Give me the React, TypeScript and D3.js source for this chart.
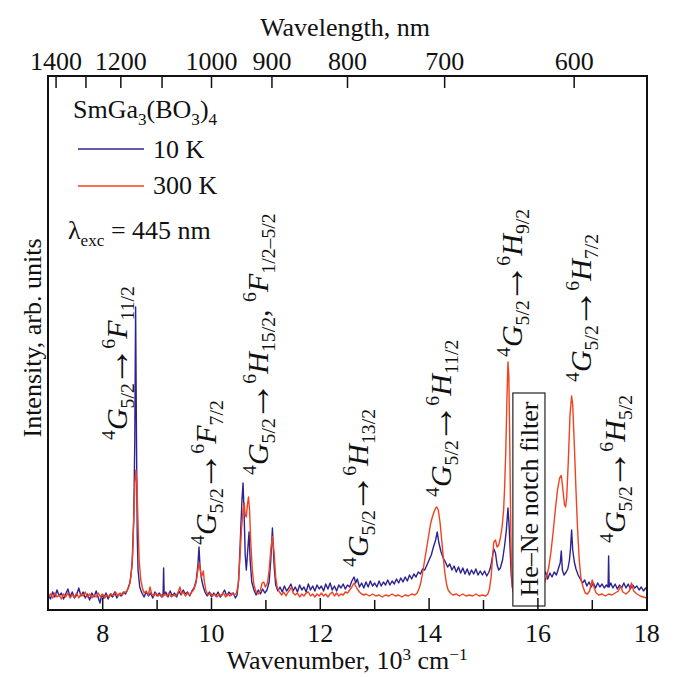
import React from "react";
import * as d3 from "d3";

// Luminescence spectra of SmGa3(BO3)4, intensity in arb. units vs wavenumber (10^3 cm^-1)
const spectrum10K: [number, number][] = [
  [7.0, 3.0], [7.04, 2.2], [7.08, 3.6], [7.12, 2.6], [7.16, 4.0], [7.2, 2.8], [7.24, 3.4], [7.28, 2.2],
  [7.32, 3.2], [7.36, 4.2], [7.4, 2.6], [7.44, 3.6], [7.48, 2.4], [7.52, 3.0], [7.56, 4.4], [7.6, 2.8],
  [7.64, 3.6], [7.68, 2.4], [7.72, 3.2], [7.76, 2.0], [7.8, 3.4], [7.84, 2.6], [7.88, 3.8], [7.92, 2.4],
  [7.95, 1.4], [7.98, 3.0], [8.02, 2.4], [8.06, 3.4], [8.1, 2.2], [8.14, 3.2], [8.18, 2.6], [8.22, 3.6],
  [8.26, 2.4], [8.3, 3.2], [8.34, 2.8], [8.38, 3.6], [8.42, 3.2], [8.46, 4.2], [8.5, 5.4], [8.54, 9],
  [8.57, 18], [8.59, 34], [8.605, 60.6], [8.62, 36], [8.635, 15], [8.65, 8], [8.68, 4.6], [8.72, 3.4],
  [8.76, 2.6], [8.8, 3.6], [8.84, 2.8], [8.88, 3.4], [8.92, 2.4], [8.96, 3.6], [9.0, 2.8], [9.04, 3.4],
  [9.08, 2.6], [9.11, 3.2], [9.12, 8.4], [9.13, 3.0], [9.16, 3.6], [9.2, 2.6], [9.24, 3.8], [9.28, 2.8],
  [9.32, 3.4], [9.36, 2.6], [9.4, 3.8], [9.44, 3.0], [9.48, 4.0], [9.52, 3.2], [9.56, 3.6], [9.6, 2.8],
  [9.64, 3.8], [9.68, 4.4], [9.72, 6.0], [9.75, 9.0], [9.77, 12.6], [9.79, 8.6], [9.82, 6.0], [9.85, 4.6],
  [9.88, 3.6], [9.92, 2.8], [9.96, 3.6], [10.0, 2.6], [10.04, 3.4], [10.08, 2.8], [10.12, 3.6], [10.16, 2.6],
  [10.2, 3.2], [10.24, 4.0], [10.28, 2.8], [10.32, 3.6], [10.36, 3.0], [10.4, 3.4], [10.44, 2.4], [10.47, 3.0],
  [10.5, 6], [10.53, 14], [10.56, 22], [10.58, 25.4], [10.6, 19], [10.62, 11], [10.64, 8], [10.66, 11],
  [10.69, 15.6], [10.71, 10], [10.74, 5.6], [10.78, 4.0], [10.82, 3.0], [10.86, 4.0], [10.9, 3.2], [10.94, 4.2],
  [10.98, 3.4], [11.02, 4.0], [11.06, 5.6], [11.09, 10], [11.12, 16.4], [11.15, 9], [11.18, 5], [11.22, 3.8],
  [11.26, 4.6], [11.3, 3.6], [11.34, 4.8], [11.38, 3.8], [11.42, 4.4], [11.46, 5.2], [11.5, 3.8], [11.54, 4.6],
  [11.58, 3.6], [11.62, 5.0], [11.66, 4.0], [11.7, 4.6], [11.74, 3.6], [11.78, 5.2], [11.82, 4.0], [11.86, 4.8],
  [11.9, 3.8], [11.94, 5.0], [11.98, 4.2], [12.02, 4.8], [12.06, 3.8], [12.1, 5.2], [12.14, 4.2], [12.18, 5.4],
  [12.22, 4.0], [12.26, 4.8], [12.3, 3.8], [12.34, 5.0], [12.38, 4.4], [12.42, 5.2], [12.46, 4.2], [12.5, 5.0],
  [12.54, 4.6], [12.58, 5.8], [12.62, 6.6], [12.65, 5.4], [12.68, 6.2], [12.72, 4.6], [12.76, 5.4], [12.8, 4.4],
  [12.84, 5.6], [12.88, 4.6], [12.92, 5.8], [12.96, 4.8], [13.0, 5.4], [13.04, 4.6], [13.08, 5.8], [13.12, 4.8],
  [13.16, 5.6], [13.2, 5.0], [13.24, 6.0], [13.28, 5.0], [13.32, 5.8], [13.36, 5.2], [13.4, 6.2], [13.44, 5.4],
  [13.48, 6.4], [13.52, 5.6], [13.56, 6.6], [13.6, 5.8], [13.64, 7.0], [13.68, 6.2], [13.72, 7.2], [13.76, 6.6],
  [13.8, 7.6], [13.84, 7.2], [13.88, 8.2], [13.92, 8.0], [13.96, 9.0], [14.0, 10], [14.04, 11], [14.08, 12.6],
  [14.12, 14], [14.15, 15.6], [14.18, 13.4], [14.22, 11.6], [14.26, 10.4], [14.3, 9.6], [14.34, 8.6], [14.38, 9.2],
  [14.42, 8.0], [14.46, 8.8], [14.5, 7.6], [14.54, 8.6], [14.58, 7.4], [14.62, 8.4], [14.66, 7.2], [14.7, 8.2],
  [14.74, 7.0], [14.78, 8.0], [14.82, 7.2], [14.86, 8.2], [14.9, 7.0], [14.94, 7.8], [14.98, 7.0], [15.02, 7.8],
  [15.06, 6.8], [15.1, 7.6], [15.13, 8.6], [15.16, 10.4], [15.19, 12.2], [15.22, 11.4], [15.25, 9.0], [15.28, 8.0],
  [15.31, 8.4], [15.35, 10], [15.39, 13], [15.42, 16], [15.45, 20.4], [15.47, 17], [15.49, 12], [15.51, 7],
  [15.53, 4.6], [15.56, 3.2], [15.7, 3.0], [15.9, 3.4], [16.06, 6.2], [16.1, 6.6], [16.14, 7.6], [16.18, 6.2],
  [16.22, 7.4], [16.26, 6.6], [16.3, 7.6], [16.34, 7.0], [16.38, 8.4], [16.41, 9.4], [16.43, 11.8], [16.45, 8.0],
  [16.48, 7.0], [16.52, 7.6], [16.55, 8.2], [16.58, 10], [16.6, 12.4], [16.62, 16], [16.64, 12], [16.67, 9.6],
  [16.7, 8.2], [16.74, 7.0], [16.78, 6.2], [16.82, 5.4], [16.86, 6.0], [16.9, 4.8], [16.94, 5.6], [16.98, 4.6],
  [17.02, 5.4], [17.06, 4.4], [17.1, 5.4], [17.14, 4.6], [17.18, 5.2], [17.22, 4.4], [17.26, 5.0], [17.29, 4.6],
  [17.3, 10.8], [17.31, 4.6], [17.34, 5.4], [17.38, 4.4], [17.42, 5.2], [17.46, 4.2], [17.5, 5.0], [17.54, 4.4],
  [17.58, 5.4], [17.62, 4.4], [17.66, 5.2], [17.7, 4.2], [17.74, 5.0], [17.78, 4.4], [17.82, 4.8], [17.86, 4.0],
  [17.9, 4.6], [17.94, 3.8], [17.98, 4.4], [18.0, 4.2],
];

const spectrum300K: [number, number][] = [
  [7.0, 2.6], [7.04, 3.2], [7.08, 2.4], [7.12, 3.4], [7.16, 2.6], [7.2, 3.0], [7.24, 2.2], [7.28, 3.2],
  [7.32, 2.6], [7.36, 3.4], [7.4, 2.4], [7.44, 3.0], [7.48, 2.6], [7.52, 3.4], [7.56, 2.4], [7.6, 3.2],
  [7.64, 2.8], [7.68, 3.6], [7.72, 2.6], [7.76, 3.2], [7.8, 2.4], [7.84, 3.0], [7.88, 2.6], [7.92, 3.4],
  [7.96, 2.6], [8.0, 3.2], [8.04, 2.4], [8.08, 3.0], [8.12, 2.6], [8.16, 3.2], [8.2, 2.8], [8.24, 3.6],
  [8.28, 2.8], [8.32, 3.4], [8.36, 3.0], [8.4, 3.6], [8.44, 3.6], [8.48, 4.6], [8.52, 6.6], [8.55, 11],
  [8.57, 18], [8.59, 25], [8.61, 28], [8.63, 25], [8.65, 17], [8.67, 10], [8.7, 6], [8.73, 4.4],
  [8.76, 3.4], [8.8, 3.8], [8.84, 3.0], [8.87, 4.6], [8.9, 3.2], [8.94, 2.8], [8.98, 3.4], [9.02, 2.8],
  [9.06, 3.2], [9.1, 2.6], [9.14, 3.2], [9.18, 2.8], [9.22, 3.4], [9.26, 2.6], [9.3, 3.0], [9.34, 2.8],
  [9.38, 3.4], [9.42, 4.6], [9.45, 3.2], [9.48, 3.6], [9.52, 2.8], [9.56, 3.4], [9.6, 3.0], [9.64, 3.6],
  [9.68, 4.2], [9.72, 5.6], [9.75, 8.0], [9.77, 9.4], [9.79, 8.2], [9.81, 6.6], [9.83, 7.0], [9.85, 7.8],
  [9.87, 5.6], [9.9, 3.8], [9.94, 3.0], [9.98, 3.4], [10.02, 2.8], [10.06, 3.2], [10.1, 2.6], [10.14, 3.2],
  [10.18, 2.8], [10.22, 3.4], [10.26, 2.6], [10.3, 3.2], [10.34, 2.8], [10.38, 3.4], [10.42, 3.0], [10.46, 3.4],
  [10.49, 5], [10.52, 10], [10.55, 16], [10.58, 20], [10.6, 21.4], [10.62, 19], [10.64, 18.6], [10.66, 21],
  [10.68, 22.6], [10.7, 20], [10.72, 14], [10.75, 8], [10.78, 5], [10.82, 3.6], [10.86, 3.2], [10.9, 4.0],
  [10.93, 5.4], [10.96, 5.6], [10.99, 4.6], [11.03, 5.4], [11.06, 8], [11.09, 12], [11.12, 14.7], [11.15, 11.6],
  [11.18, 6.6], [11.21, 4.4], [11.25, 3.6], [11.29, 3.0], [11.33, 3.6], [11.37, 2.8], [11.41, 3.6], [11.44, 4.0],
  [11.47, 4.6], [11.5, 3.4], [11.54, 3.0], [11.58, 3.4], [11.62, 2.6], [11.66, 3.2], [11.7, 2.8], [11.74, 3.4],
  [11.78, 3.6], [11.82, 2.8], [11.86, 3.2], [11.9, 2.6], [11.94, 3.2], [11.98, 2.8], [12.02, 3.4], [12.06, 2.8],
  [12.1, 3.2], [12.14, 2.6], [12.18, 3.2], [12.22, 3.6], [12.26, 2.8], [12.3, 3.4], [12.34, 2.8], [12.38, 3.2],
  [12.42, 3.0], [12.46, 3.6], [12.5, 3.4], [12.54, 4.0], [12.58, 4.6], [12.62, 5.4], [12.65, 4.8], [12.68, 4.2],
  [12.72, 3.6], [12.76, 3.2], [12.8, 3.0], [12.84, 3.2], [12.9, 2.8], [12.96, 3.2], [13.02, 2.8], [13.08, 3.0],
  [13.14, 2.6], [13.2, 3.0], [13.26, 2.8], [13.32, 3.2], [13.38, 2.8], [13.44, 3.0], [13.5, 2.6], [13.56, 3.0],
  [13.62, 2.8], [13.68, 3.2], [13.74, 3.0], [13.78, 3.4], [13.82, 4.4], [13.85, 5.6], [13.88, 7.4], [13.91, 9.4],
  [13.94, 11.4], [13.97, 13.4], [14.0, 15.4], [14.03, 17.4], [14.06, 18.6], [14.09, 19.6], [14.12, 20.4], [14.14, 20.6],
  [14.17, 20.0], [14.2, 17.6], [14.23, 14.2], [14.26, 10.6], [14.29, 7.4], [14.32, 5.2], [14.35, 4.0], [14.39, 3.4],
  [14.44, 3.0], [14.5, 3.2], [14.56, 2.8], [14.62, 3.2], [14.68, 2.8], [14.74, 3.0], [14.8, 2.8], [14.86, 3.2],
  [14.92, 2.8], [14.98, 3.0], [15.04, 2.8], [15.08, 3.2], [15.11, 4.2], [15.14, 6.6], [15.17, 11], [15.19, 13.6],
  [15.22, 14], [15.25, 12.6], [15.28, 13], [15.31, 14.4], [15.34, 16.4], [15.37, 20], [15.39, 25], [15.41, 32],
  [15.43, 42], [15.45, 49.6], [15.465, 47], [15.48, 36], [15.495, 22], [15.51, 10], [15.53, 4.6], [15.56, 3.0],
  [15.8, 3.0], [16.02, 3.8], [16.08, 4.4], [16.12, 5.4], [16.16, 6.6], [16.2, 8.6], [16.24, 11.6], [16.28, 15.6],
  [16.32, 20], [16.36, 24], [16.4, 26.4], [16.43, 26.9], [16.46, 24], [16.49, 21], [16.51, 20.6], [16.53, 22.6],
  [16.56, 30], [16.59, 39], [16.62, 42.8], [16.64, 41], [16.67, 33], [16.7, 24], [16.73, 16], [16.76, 10],
  [16.79, 6.4], [16.83, 4.6], [16.87, 3.4], [16.91, 3.2], [16.95, 3.8], [16.98, 5.2], [17.0, 6], [17.03, 4.6],
  [17.07, 3.4], [17.12, 3.0], [17.18, 3.2], [17.24, 2.8], [17.3, 3.2], [17.36, 3.0], [17.42, 3.4], [17.48, 3.8],
  [17.52, 4.8], [17.56, 3.6], [17.62, 3.2], [17.68, 3.8], [17.72, 5.4], [17.76, 3.8], [17.82, 3.2], [17.88, 2.8],
  [17.94, 2.6], [18.0, 2.4],
];

// Axis ticks
const wavenumberTicks = [8, 10, 12, 14, 16, 18];
const wavenumberMinorTicks = [9, 11, 13, 15, 17];
const wavelengthTicks = [1400, 1300, 1200, 1100, 1000, 900, 800, 700, 600];
const wavelengthLabels = [1400, 1200, 1000, 900, 800, 700, 600];

// Notch filter band (10^3 cm^-1)
const notchBand = [15.54, 16.13];

type Part = { t: string; k?: "i" | "sup" | "sub" | "arrow" };

const from4G: Part[] = [{ t: "4", k: "sup" }, { t: "G", k: "i" }, { t: "5/2", k: "sub" }, { t: "→", k: "arrow" }];

// Transition labels: wavenumber of the text baseline column and intensity where the text starts
const transitionLabels: { w: number; v: number; parts: Part[] }[] = [
  { w: 8.44, v: 34, parts: [...from4G, { t: "6", k: "sup" }, { t: "F", k: "i" }, { t: "11/2", k: "sub" }] },
  { w: 10.08, v: 13, parts: [...from4G, { t: "6", k: "sup" }, { t: "F", k: "i" }, { t: "7/2", k: "sub" }] },
  { w: 11.03, v: 27, parts: [...from4G, { t: "6", k: "sup" }, { t: "H", k: "i" }, { t: "15/2", k: "sub" }, { t: ", " }, { t: "6", k: "sup" }, { t: "F", k: "i" }, { t: "1/2–5/2", k: "sub" }] },
  { w: 12.87, v: 8.6, parts: [...from4G, { t: "6", k: "sup" }, { t: "H", k: "i" }, { t: "13/2", k: "sub" }] },
  { w: 14.4, v: 22.6, parts: [...from4G, { t: "6", k: "sup" }, { t: "H", k: "i" }, { t: "11/2", k: "sub" }] },
  { w: 15.7, v: 50.6, parts: [...from4G, { t: "6", k: "sup" }, { t: "H", k: "i" }, { t: "9/2", k: "sub" }] },
  { w: 16.97, v: 45.6, parts: [...from4G, { t: "6", k: "sup" }, { t: "H", k: "i" }, { t: "7/2", k: "sub" }] },
  { w: 17.6, v: 13.4, parts: [...from4G, { t: "6", k: "sup" }, { t: "H", k: "i" }, { t: "5/2", k: "sub" }] },
];

const BLUE = "#2c2392";
const RED = "#f2411f";
const FONT = "'Liberation Serif', 'Times New Roman', serif";

const W = 674;
const H = 677;
const left = 48;
const right = 647;
const top = 76;
const bottom = 610;

function rich(parts: Part[], fs: number) {
  let shift = 0;
  return parts.map((p, i) => {
    const target =
      p.k === "sup" ? -0.4 * fs : p.k === "sub" ? 0.24 * fs : p.k === "arrow" ? 0.08 * fs : 0;
    const dy = target - shift;
    shift = target;
    const small = p.k === "sup" || p.k === "sub";
    if (p.k === "arrow") {
      // thin, long arrow: serif glyph drawn larger
      return (
        <tspan key={i} dy={dy} dx={-3} fontSize={fs * 1.35}>
          {p.t}
        </tspan>
      );
    }
    return (
      <tspan
        key={i}
        dy={dy}
        dx={i > 0 && parts[i - 1].k === "arrow" ? -3 : 0}
        fontSize={small ? fs * 0.66 : fs}
        fontStyle={p.k === "i" ? "italic" : "normal"}
      >
        {p.t}
      </tspan>
    );
  });
}

export default function App() {
  const x = d3.scaleLinear().domain([7, 18]).range([48.3, 646.7]);
  const y = d3.scaleLinear().domain([0, 106.8]).range([bottom, top]);
  const line = d3
    .line<[number, number]>()
    .x((d) => x(d[0]))
    .y((d) => y(d[1]));
  const wl = (nm: number) => x(1e4 / nm);

  const fs = 26;
  const labelFs = 30;

  return (
    <svg
      width={W}
      height={H}
      style={{ position: "absolute", left: 0, top: 0, background: "#fff" }}
      fontFamily={FONT}
    >
      <rect x={0} y={0} width={W} height={H} fill="#fff" />

      {/* spectra */}
      <path d={line(spectrum10K) || ""} fill="none" stroke={BLUE} strokeWidth={1.4} strokeLinejoin="round" />
      <path d={line(spectrum300K) || ""} fill="none" stroke={RED} strokeWidth={1.4} strokeLinejoin="round" />

      {/* notch filter band */}
      <rect
        x={x(notchBand[0])}
        y={393}
        width={x(notchBand[1]) - x(notchBand[0])}
        height={213}
        fill="#fff"
        stroke="#222"
        strokeWidth={1.2}
      />
      <text
        transform={`translate(${(x(notchBand[0]) + x(notchBand[1])) / 2 + 9},${499}) rotate(-90)`}
        textAnchor="middle"
        fontSize={fs}
        fill="#111"
      >
        He–Ne notch filter
      </text>

      {/* frame */}
      <rect x={left} y={top} width={right - left} height={bottom - top} fill="none" stroke="#111" strokeWidth={2} />

      {/* bottom axis */}
      {wavenumberTicks.map((t) => (
        <g key={"b" + t}>
          {t < 18 && <line x1={x(t)} x2={x(t)} y1={bottom} y2={bottom - 12} stroke="#111" strokeWidth={1.5} />}
          <text x={x(t)} y={642} textAnchor="middle" fontSize={fs} fill="#111">
            {t}
          </text>
        </g>
      ))}
      {wavenumberMinorTicks.map((t) => (
        <line key={"m" + t} x1={x(t)} x2={x(t)} y1={bottom} y2={bottom - 10} stroke="#111" strokeWidth={1.5} />
      ))}
      <text x={347} y={669} textAnchor="middle" fontSize={fs} fill="#111">
        Wavenumber, 10
        <tspan dy={-9} fontSize={fs * 0.66}>3</tspan>
        <tspan dy={9}> cm</tspan>
        <tspan dy={-9} fontSize={fs * 0.66}>−1</tspan>
      </text>

      {/* top axis (wavelength) */}
      {wavelengthTicks.map((nm) => (
        <line key={"t" + nm} x1={wl(nm)} x2={wl(nm)} y1={top} y2={top + 12} stroke="#111" strokeWidth={1.5} />
      ))}
      {wavelengthLabels.map((nm) => (
        <text key={"tl" + nm} x={wl(nm)} y={70} textAnchor="middle" fontSize={fs} fill="#111">
          {nm}
        </text>
      ))}
      <text x={345} y={36} textAnchor="middle" fontSize={fs} fill="#111">
        Wavelength, nm
      </text>

      {/* y axis title */}
      <text transform={`translate(41,${338}) rotate(-90)`} textAnchor="middle" fontSize={fs} fill="#111">
        Intensity, arb. units
      </text>

      {/* legend */}
      <text x={73} y={118} fontSize={fs} fill="#111">
        SmGa
        <tspan dy={7} fontSize={fs * 0.66}>3</tspan>
        <tspan dy={-7}>(BO</tspan>
        <tspan dy={7} fontSize={fs * 0.66}>3</tspan>
        <tspan dy={-7}>)</tspan>
        <tspan dy={7} fontSize={fs * 0.66}>4</tspan>
      </text>
      <line x1={78} x2={144} y1={149} y2={149} stroke={BLUE} strokeWidth={1.5} />
      <text x={153} y={158} fontSize={fs} fill="#111">10 K</text>
      <line x1={78} x2={144} y1={186} y2={186} stroke={RED} strokeWidth={1.5} />
      <text x={153} y={194} fontSize={fs} fill="#111">300 K</text>
      <text x={68} y={239} fontSize={fs} fill="#111">
        λ
        <tspan dy={7} fontSize={fs * 0.66}>exc</tspan>
        <tspan dy={-7}> = 445 nm</tspan>
      </text>

      {/* transition labels */}
      {transitionLabels.map((lb, i) => (
        <text
          key={"lb" + i}
          transform={`translate(${x(lb.w)},${y(lb.v)}) rotate(-90)`}
          fontSize={labelFs}
          fill="#111"
        >
          {rich(lb.parts, labelFs)}
        </text>
      ))}
    </svg>
  );
}
